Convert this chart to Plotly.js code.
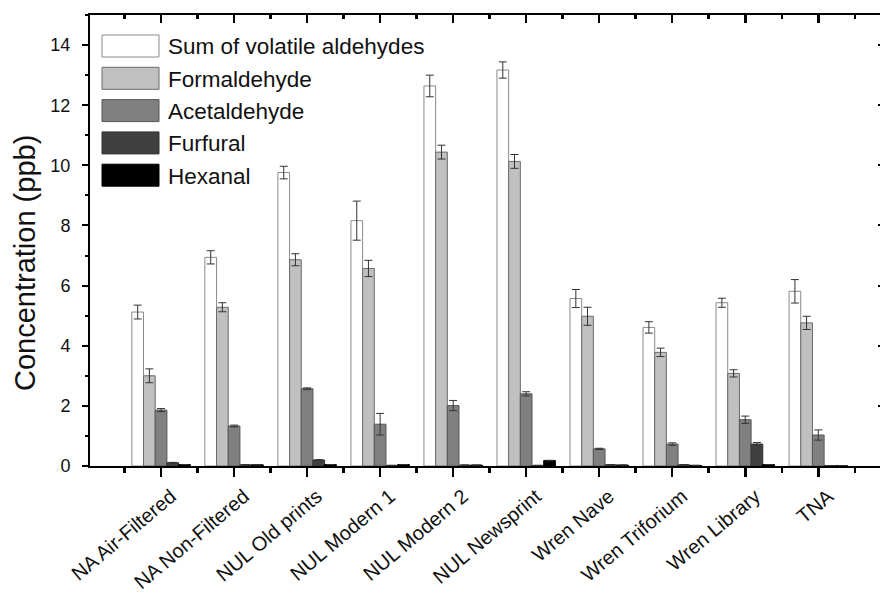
<!DOCTYPE html>
<html><head><meta charset="utf-8">
<script src="https://cdn.plot.ly/plotly-3.0.1.min.js"></script>
<style>html,body{margin:0;padding:0;overflow:hidden;background:#fff}#chart{width:900px;height:601px}</style>
</head><body><div id="chart"></div>
<script>
const categories = ["NA Air-Filtered","NA Non-Filtered","NUL Old prints","NUL Modern 1","NUL Modern 2","NUL Newsprint","Wren Nave","Wren Triforium","Wren Library","TNA"];
const seriesNames = ["Sum of volatile aldehydes","Formaldehyde","Acetaldehyde","Furfural","Hexanal"];
const sumVals  = [5.12, 6.94, 9.76, 8.16, 12.64, 13.17, 5.57, 4.61, 5.43, 5.81];
const sumErr   = [0.23, 0.22, 0.21, 0.65, 0.36, 0.27, 0.30, 0.19, 0.15, 0.39];
const formVals = [3.00, 5.28, 6.86, 6.57, 10.44, 10.13, 4.98, 3.78, 3.08, 4.76];
const formErr  = [0.23, 0.15, 0.20, 0.27, 0.23, 0.23, 0.30, 0.14, 0.12, 0.22];
const acetVals = [1.86, 1.33, 2.57, 1.39, 2.01, 2.40, 0.57, 0.73, 1.54, 1.03];
const acetErr  = [0.05, 0.03, 0.03, 0.36, 0.17, 0.07, 0.02, 0.04, 0.12, 0.17];
const furfVals = [0.11, 0.04, 0.20, 0.02, 0.03, 0.02, 0.04, 0.04, 0.73, 0.01];
const furfErr  = [0.01, 0.00, 0.01, 0.00, 0.00, 0.00, 0.00, 0.00, 0.05, 0.00];
const hexVals  = [0.05, 0.04, 0.05, 0.05, 0.03, 0.18, 0.03, 0.02, 0.05, 0.01];
const hexErr   = [0.00, 0.00, 0.00, 0.00, 0.00, 0.01, 0.00, 0.00, 0.00, 0.00];
const yTicks = [0, 2, 4, 6, 8, 10, 12, 14];
const yTitle = 'Concentration (ppb)';

const fills = ["#ffffff", "#c0c0c0", "#808080", "#404040", "#000000"];
const outlines = ["#8a8a8a", "#6a6a6a", "#555555", "#333333", "#000000"];
const allVals = [sumVals, formVals, acetVals, furfVals, hexVals];
const allErr = [sumErr, formErr, acetErr, furfErr, hexErr];
const idx = categories.map((c, i) => i);

const traces = seriesNames.map((name, s) => ({
  type: 'bar', name: name, x: idx, y: allVals[s],
  marker: {color: fills[s], line: {color: outlines[s], width: 1}},
  error_y: {type: 'data', array: allErr[s], visible: true, color: '#333', thickness: 1, width: 4},
  hoverinfo: 'skip'
}));
traces.push({type: 'scatter', x: [0], y: [0], xaxis: 'x2', yaxis: 'y2', mode: 'markers',
  marker: {opacity: 0}, showlegend: false, hoverinfo: 'skip'});

// custom legend with large swatches
const shapes = [], annotations = [];
const plotL = 90, plotR = 884, plotT = 15, plotB = 466;
const pw = plotR - plotL, ph = plotB - plotT;
seriesNames.forEach((name, s) => {
  const cy = 46 + s * 32.3;
  shapes.push({type: 'rect', xref: 'paper', yref: 'paper',
    x0: (102 - plotL) / pw, x1: (159 - plotL) / pw,
    y0: (plotB - (cy + 11)) / ph, y1: (plotB - (cy - 11)) / ph,
    fillcolor: fills[s], line: {color: outlines[s], width: 1}});
  annotations.push({xref: 'paper', yref: 'paper', x: (166 - plotL) / pw, y: (plotB - cy - 1) / ph,
    xanchor: 'left', yanchor: 'middle', text: name, showarrow: false,
    font: {size: 22.5, color: '#111'}});
});
annotations.push({xref: 'paper', yref: 'paper', x: (25 - plotL) / pw, y: (plotB - 263) / ph,
  xanchor: 'center', yanchor: 'middle', textangle: -90, text: yTitle, showarrow: false,
  font: {size: 29, color: '#111'}});

const axLine = {showline: true, linecolor: '#000', linewidth: 2, showgrid: false, zeroline: false};
const layout = {
  width: 900, height: 601,
  margin: {l: plotL, r: 900 - plotR, t: plotT, b: 601 - plotB},
  barmode: 'group', bargap: 0.2, bargroupgap: 0,
  showlegend: false,
  paper_bgcolor: '#fff', plot_bgcolor: '#fff',
  font: {family: 'Liberation Sans, Arial, sans-serif', color: '#111'},
  xaxis: Object.assign({}, axLine, {
    range: [-0.973, 9.9], tickmode: 'array', tickvals: idx, ticktext: categories,
    tickangle: -40, ticks: 'outside', ticklen: 9, tickwidth: 2.5, tickcolor: '#000',
    tickfont: {size: 20, color: '#111'}, ticklabelshift: 10,
    minor: {tick0: 0.5, dtick: 1, ticks: 'outside', ticklen: 5, tickwidth: 2.5, tickcolor: '#000'}
  }),
  xaxis2: Object.assign({}, axLine, {
    overlaying: 'x', side: 'top', range: [-0.973, 9.9], tickmode: 'array', tickvals: idx,
    showticklabels: false, ticks: 'inside', ticklen: 8, tickwidth: 2.5, tickcolor: '#000',
    minor: {tick0: 0.5, dtick: 1, ticks: 'inside', ticklen: 4, tickwidth: 2.5, tickcolor: '#000'}
  }),
  yaxis: Object.assign({}, axLine, {
    range: [0, 15], tickmode: 'array', tickvals: yTicks,
    ticks: 'outside', ticklen: 6, tickwidth: 2, tickcolor: '#000',
    tickfont: {size: 18, color: '#111'}, ticklabelstandoff: 8,
    minor: {tick0: 1, dtick: 2, ticks: 'outside', ticklen: 3, tickwidth: 2, tickcolor: '#000'}
  }),
  yaxis2: Object.assign({}, axLine, {
    overlaying: 'y', side: 'right', range: [0, 15], tickmode: 'array', tickvals: yTicks,
    showticklabels: false, ticks: 'inside', ticklen: 6, tickwidth: 2, tickcolor: '#000'
  }),
  shapes: shapes, annotations: annotations
};
Plotly.newPlot('chart', traces, layout, {staticPlot: true, displayModeBar: false});
</script>
</body></html>
